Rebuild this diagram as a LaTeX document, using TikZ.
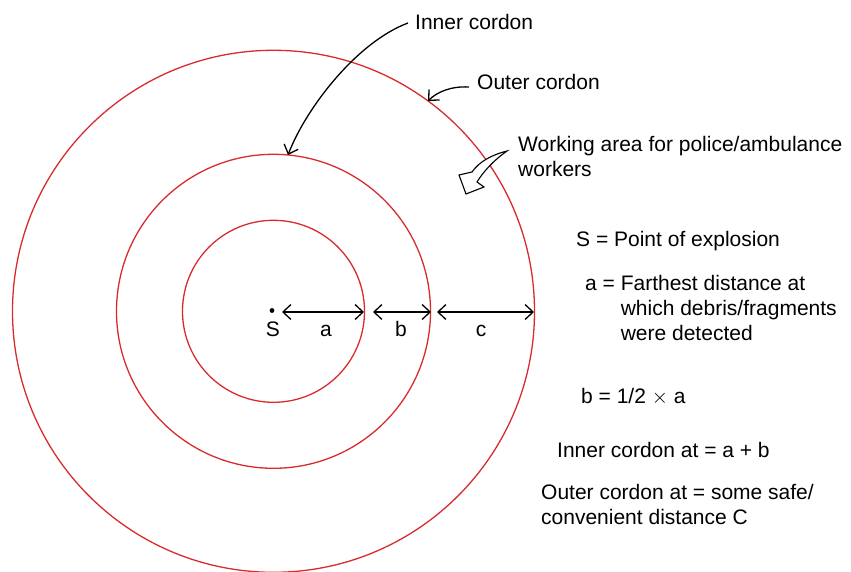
\documentclass[tikz,border=0pt]{standalone}
\usepackage{fontspec}
\setmainfont{Liberation Sans}
\usetikzlibrary{arrows.meta}
\definecolor{cred}{RGB}{216,44,44}
\begin{document}
\begin{tikzpicture}[x=1pt,y=-1pt,
  ring/.style={draw=cred, line width=1.3pt},
  barb/.tip={Straight Barb[length=8pt,width=15pt,line width=1.3pt]},
  dimline/.style={line width=1.4pt, barb-barb},
  callout/.style={line width=1.3pt, -barb},
  lbl/.style={font=\fontsize{21}{25}\selectfont, inner sep=0pt},
  txt/.style={lbl, anchor=base west}]
\useasboundingbox (0,0) rectangle (851,572);
\coordinate (C) at (273.5,311.3);
\coordinate (S) at (272,310.5);
\draw[ring] (C) circle[radius=91pt];
\draw[ring] (C) circle[radius=157pt];
\draw[ring] (C) circle[radius=261pt];
\fill (S) circle[radius=2.4pt];
% dimension arrows
\coordinate (a1) at (282,312);
\coordinate (a2) at (364,312);
\coordinate (b1) at (373,312);
\coordinate (b2) at (431,312);
\coordinate (c1) at (437,312);
\coordinate (c2) at (534,312);
\draw[dimline] (a1) -- (a2);
\draw[dimline] (b1) -- (b2);
\draw[dimline] (c1) -- (c2);
\node[lbl, anchor=base] (Slbl) at (273,336) {S};
\node[lbl, anchor=base] (albl) at (326,336) {a};
\node[lbl, anchor=base] (blbl) at (401,336) {b};
\node[lbl, anchor=base] (clbl) at (481,336) {c};
% callouts
\node[txt] (inner) at (415,30) {Inner cordon};
\node[txt] (outer) at (477,90) {Outer cordon};
\coordinate (innerS) at (408,23);
\coordinate (innerE) at (288,155);
\coordinate (outerS) at (469,87);
\coordinate (outerE) at (428,101);
\draw[callout] (innerS) .. controls (357,42) and (306,108) .. (innerE);
\draw[callout] (outerS) .. controls (451,86) and (437,92) .. (outerE);
\node[txt] (work) at (518,152) {\def\arraystretch{1}\begin{tabular}[t]{@{}l@{}}Working area for police/ambulance\\workers\end{tabular}};
% hollow arrow
\draw[line width=1.1pt, fill=white, line join=miter]
  (507,151) .. controls (491,155) and (479,162) .. (472,172)
  -- (459,175) -- (466,194) -- (484,187) -- (477,182)
  .. controls (483,172) and (494,160) .. cycle;
% legend
\node[txt] (sdef) at (576,247) {S = Point of explosion};
\node[txt] (adef) at (585,290) {a = \begin{tabular}[t]{@{}l@{}}Farthest distance at\\which debris/fragments\\were detected\end{tabular}};
\node[txt] (bdef) at (581,403) {b = 1/2 $\times$ a};
\node[txt] (idef) at (557,457) {Inner cordon at = a + b};
\node[txt] (odef) at (541,499) {\begin{tabular}[t]{@{}l@{}}Outer cordon at = some safe/\\convenient distance C\end{tabular}};
\end{tikzpicture}
\end{document}
